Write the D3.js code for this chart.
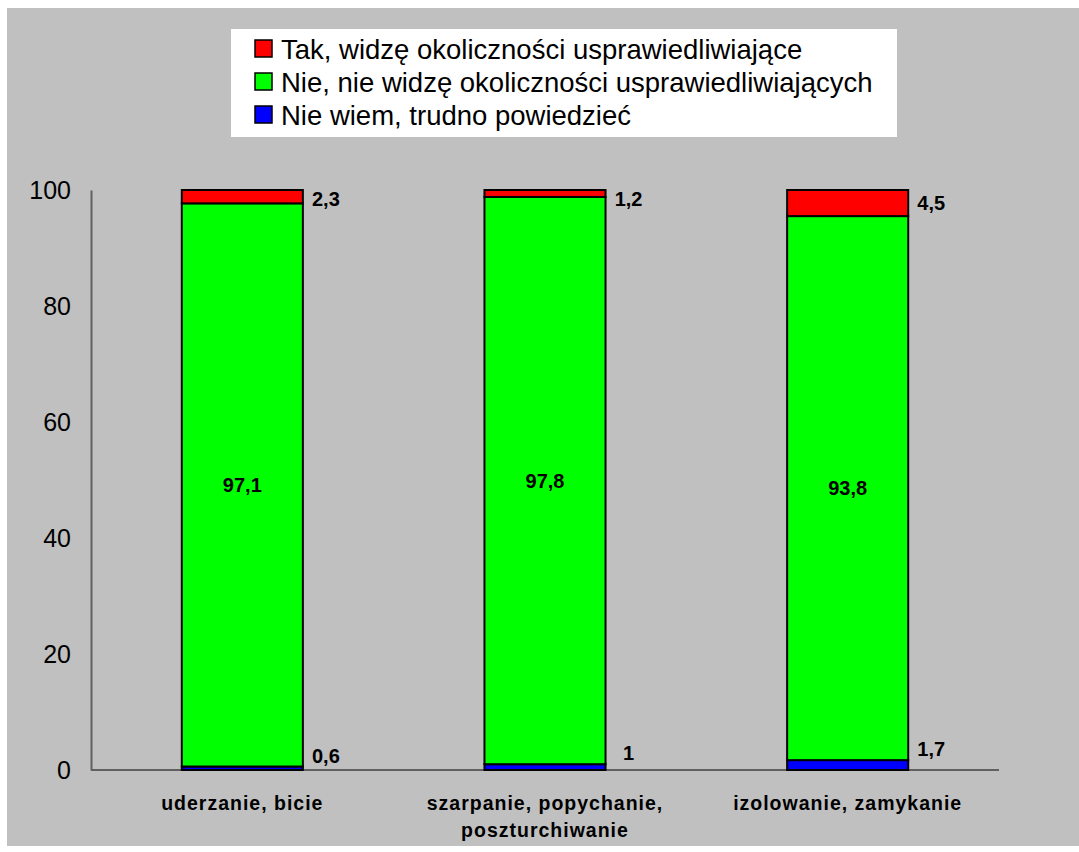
<!DOCTYPE html>
<html><head><meta charset="utf-8">
<script src="https://cdn.jsdelivr.net/npm/d3@7"></script>
<style>
body{margin:0;background:#fff;}
svg{display:block;font-family:"Liberation Sans",Arial,sans-serif;}
</style></head>
<body><svg id="c" width="1079" height="852"></svg>
<script>
const categories = [["uderzanie, bicie"], ["szarpanie, popychanie,", "poszturchiwanie"], ["izolowanie, zamykanie"]];
const seriesNames = ["Nie wiem, trudno powiedzieć", "Nie, nie widzę okoliczności usprawiedliwiających", "Tak, widzę okoliczności usprawiedliwiające"];
const nieWiem = [0.6, 1, 1.7];
const nie = [97.1, 97.8, 93.8];
const tak = [2.3, 1.2, 4.5];
const labelsNieWiem = ["0,6", "1", "1,7"];
const labelsNie = ["97,1", "97,8", "93,8"];
const labelsTak = ["2,3", "1,2", "4,5"];
const yTicks = [0, 20, 40, 60, 80, 100];
const colors = ["#0000ff", "#00ff00", "#ff0000"];

const svg = d3.select("#c");
svg.append("rect").attr("x", 7).attr("y", 8).attr("width", 1072).attr("height", 838).attr("fill", "#c0c0c0");

const x = d3.scaleBand().domain(d3.range(categories.length)).range([91, 999]).paddingInner(0.6).paddingOuter(0.3);
const y = d3.scaleLinear().domain([0, 100]).range([770, 190]);

// y axis
const yAxis = svg.append("g").attr("transform", "translate(91,0)")
  .call(d3.axisLeft(y).tickValues(yTicks).tickSize(0).tickPadding(20).tickFormat(d3.format("d")));
yAxis.select(".domain").attr("stroke", "#606060").attr("stroke-width", 2);
yAxis.selectAll("text").attr("font-size", 25).attr("fill", "#000").attr("font-family", "Liberation Sans, Arial, sans-serif");

// x axis line
svg.append("line").attr("x1", 91).attr("x2", 999).attr("y1", y(0)).attr("y2", y(0)).attr("stroke", "#606060").attr("stroke-width", 2);

const stackData = categories.map((c, i) => ({i, a: nieWiem[i], b: nie[i], c: tak[i]}));
const stack = d3.stack().keys(["a", "b", "c"])(stackData);

stack.forEach((layer, k) => {
  svg.append("g").selectAll("rect").data(layer).join("rect")
    .attr("x", d => x(d.data.i))
    .attr("width", x.bandwidth())
    .attr("y", d => y(d[1]))
    .attr("height", d => y(d[0]) - y(d[1]))
    .attr("fill", colors[k])
    .attr("stroke", "#000").attr("stroke-width", 2);
});

// labels
const lab = svg.append("g").attr("font-weight", "bold").attr("font-size", 20).attr("fill", "#000");
stackData.forEach((d, i) => {
  const xr = x(i) + x.bandwidth() + 23;
  lab.append("text").attr("x", xr).attr("y", y(d.a) - 11).attr("dy", "0.35em").attr("text-anchor", "middle").text(labelsNieWiem[i]);
  lab.append("text").attr("x", x(i) + x.bandwidth() / 2).attr("y", y(d.a + d.b / 2)).attr("dy", "0.35em").attr("text-anchor", "middle").text(labelsNie[i]);
  const midTop = y(d.a + d.b + d.c / 2);
  lab.append("text").attr("x", xr).attr("y", Math.max(midTop, y(100) + 9)).attr("dy", "0.35em").attr("text-anchor", "middle").text(labelsTak[i]);
});

// category labels
const cg = svg.append("g").attr("font-weight", "bold").attr("font-size", 19.5).attr("fill", "#000").attr("letter-spacing", "1px");
categories.forEach((lines, i) => {
  const t = cg.append("text").attr("x", x(i) + x.bandwidth() / 2).attr("y", 810).attr("text-anchor", "middle");
  lines.forEach((l, j) => t.append("tspan").attr("x", x(i) + x.bandwidth() / 2).attr("dy", j === 0 ? 0 : 27).text(l));
});

// legend
const lg = svg.append("g");
lg.append("rect").attr("x", 231).attr("y", 29).attr("width", 666).attr("height", 108).attr("fill", "#fff");
const legendOrder = [2, 1, 0];
legendOrder.forEach((k, r) => {
  const cy = 49 + r * 33;
  lg.append("rect").attr("x", 255).attr("y", cy - 9).attr("width", 17).attr("height", 17).attr("fill", colors[k]).attr("stroke", "#000").attr("stroke-width", 1.5);
  lg.append("text").attr("x", 281).attr("y", cy).attr("dy", "0.35em").attr("font-size", 27.5).attr("fill", "#000").text(seriesNames[k]);
});
</script></body></html>
